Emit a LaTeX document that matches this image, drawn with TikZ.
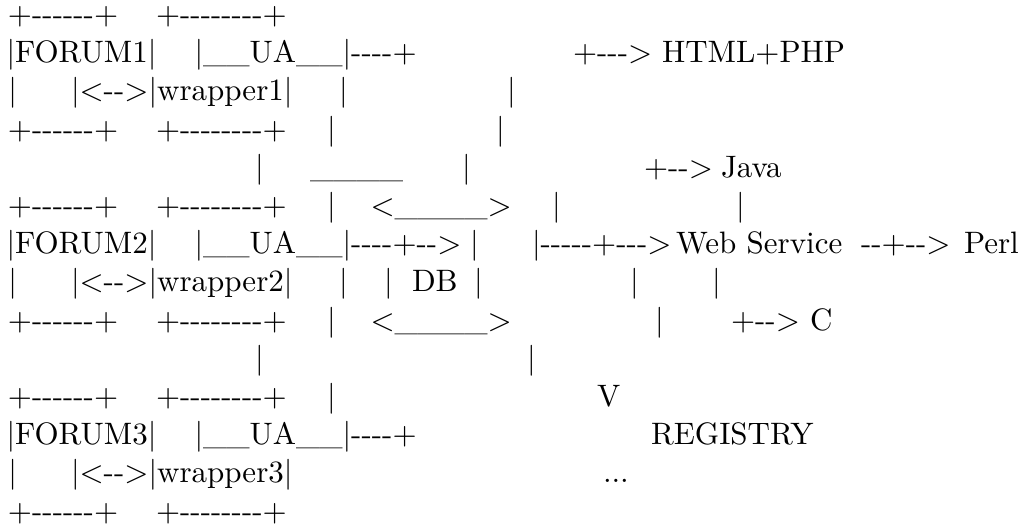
\documentclass[tikz,border=0pt]{standalone}
\usepackage{fontspec}
\setmainfont{lmroman10-regular.otf}[Ligatures=TeXOff]
\usepackage{tikz}
\tikzstyle{txt}=[anchor=base west,inner sep=0pt,outer sep=0pt]

\begin{document}
\begin{tikzpicture}[x=1pt,y=-38.2pt,font=\fontsize{31}{38}\selectfont]
  \useasboundingbox (0,0.3586) rectangle (1032,14.1021);
  % the three forums with their wrappers
  \foreach \i/\r/\tail in {1/1/{},2/6/{-->},3/11/{}} {
    \node[txt] (tl\i) at (8,\r) {+------+};
    \node[txt] (tr\i) at (156,\r) {+--------+};
    \node[txt] (f\i) at (6.5,\r+1) {|FORUM\i|};
    \node[txt] (u\i) at (194.5,\r+1) {|\_\_UA\_\_|----+\tail};
    \node[txt] (s\i) at (8.5,\r+2) {|};
    \node[txt] (w\i) at (71,\r+2) {|<-->|wrapper\i|};
    \node[txt] (bl\i) at (8,\r+3) {+------+};
    \node[txt] (br\i) at (156,\r+3) {+--------+};
  }
  % loose bars
  \foreach \x/\r [count=\j] in {339/3,507/3,327/4,496/4,255/5,462/5,
      327/6,552/6,736/6,470/7,339/8,630/8,712/8,327/9,655/9,
      255/10,527/10,327/11}
    \node[txt] (v\j) at (\x,\r) {|};
  % the DB drum
  \node[txt] (dbtop) at (310,5) {\_\_\_\_};
  \node[txt] (dbup) at (370.5,6) {<\_\_\_\_>};
  \node[txt] (dbl) at (384,8) {|};
  \node[txt] (db) at (412,8) {DB};
  \node[txt] (dbr) at (474,8) {|};
  \node[txt] (dblo) at (370.5,9) {<\_\_\_\_>};
  % web service and its clients
  \node[txt] (a3) at (532,7) {|-----+--->};
  \node[txt] (ws) at (676,7) {Web Service};
  \node[txt] (a4) at (861,7) {--+-->};
  \node[txt] (perl) at (964,7) {Perl};
  \node[txt] (a1) at (573,2) {+--->};
  \node[txt] (html) at (662,2) {HTML+PHP};
  \node[txt] (a2) at (644,5) {+-->};
  \node[txt] (java) at (721,5) {Java};
  \node[txt] (a5) at (731,9) {+-->};
  \node[txt] (c) at (810,9) {C};
  % registry
  \node[txt] (down) at (597,11) {V};
  \node[txt] (reg) at (651,12) {REGISTRY};
  \node[txt] (more) at (603,13) {...};
\end{tikzpicture}
\end{document}
